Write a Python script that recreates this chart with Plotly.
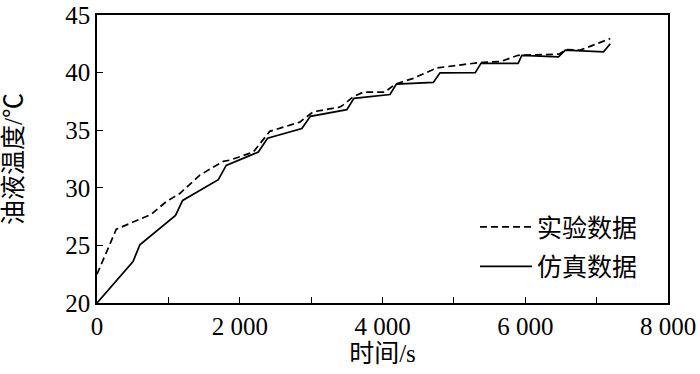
import plotly.graph_objects as go

# 实验数据 (dashed)
exp_t = [0, 270, 760, 970, 1160, 1440, 1770, 1860, 2190, 2420, 2840, 3030, 3400, 3450,
         3590, 3730, 4030, 4180, 4430, 4760, 5130, 5410, 5650, 5900, 6470, 6580, 6770, 7190]
exp_T = [22.5, 26.4, 27.7, 28.8, 29.5, 31.1, 32.3, 32.4, 33.1, 34.9, 35.7, 36.6, 37.0, 37.2,
         37.9, 38.3, 38.3, 39.0, 39.5, 40.4, 40.7, 40.9, 40.95, 41.5, 41.6, 42.0, 41.95, 42.95]

# 仿真数据 (solid)
sim_t = [0, 505, 600, 1100, 1200, 1700, 1810, 2260, 2390, 2870, 2990, 3500, 3600, 4105,
         4195, 4712, 4806, 5300, 5380, 5900, 5952, 6466, 6560, 7097, 7191]
sim_T = [20.0, 23.6, 25.05, 27.6, 28.9, 30.7, 31.95, 33.1, 34.3, 35.15, 36.2, 36.78, 37.76, 38.1,
         39.0, 39.15, 39.98, 40.0, 40.8, 40.8, 41.5, 41.37, 41.95, 41.8, 42.5]

x_tickvals = [0, 2000, 4000, 6000, 8000]
x_ticktext = ["0", "2 000", "4 000", "6 000", "8 000"]
y_tickvals = [20, 25, 30, 35, 40, 45]

FONT = "Liberation Serif, Times New Roman, Noto Sans CJK SC"

fig = go.Figure()
fig.add_trace(go.Scatter(x=exp_t, y=exp_T, mode="lines", name="实验数据",
                         legendgroup="a",
                         line=dict(color="black", width=1.7, dash="7px,4px")))
fig.add_trace(go.Scatter(x=sim_t, y=sim_T, mode="lines", name="仿真数据",
                         legendgroup="b",
                         line=dict(color="black", width=1.7)))

axis_common = dict(showline=True, linecolor="black", linewidth=1.5, mirror=True,
                   showgrid=False, zeroline=False, ticks="inside", ticklen=6,
                   tickwidth=1.2, tickcolor="black", automargin=False,
                   tickfont=dict(family=FONT, size=25, color="black"))

fig.update_layout(
    width=700, height=374,
    margin=dict(l=97, r=32, t=15, b=71),
    paper_bgcolor="white", plot_bgcolor="white",
    font=dict(family=FONT, size=25, color="black"),
    xaxis=dict(range=[0, 8000], tickvals=x_tickvals, ticktext=x_ticktext,
               minor=dict(dtick=1000, ticks="inside", ticklen=6, tickwidth=1.2, tickcolor="black"),
               title=dict(text="时间/s", font=dict(family=FONT, size=25), standoff=4),
               **axis_common),
    yaxis=dict(range=[20, 45], tickvals=y_tickvals,
               title=dict(text="油液温度/℃", font=dict(family=FONT, size=25), standoff=37),
               **axis_common),
    legend=dict(x=0.662, y=0.343, xanchor="left", yanchor="top",
                bgcolor="rgba(0,0,0,0)", tracegroupgap=4,
                font=dict(family=FONT, size=25, color="black"), itemwidth=52),
    showlegend=True,
)

fig.write_html("out.html", config={"displayModeBar": False},
               post_script="document.body.style.margin='0';document.body.style.overflow='hidden';")
